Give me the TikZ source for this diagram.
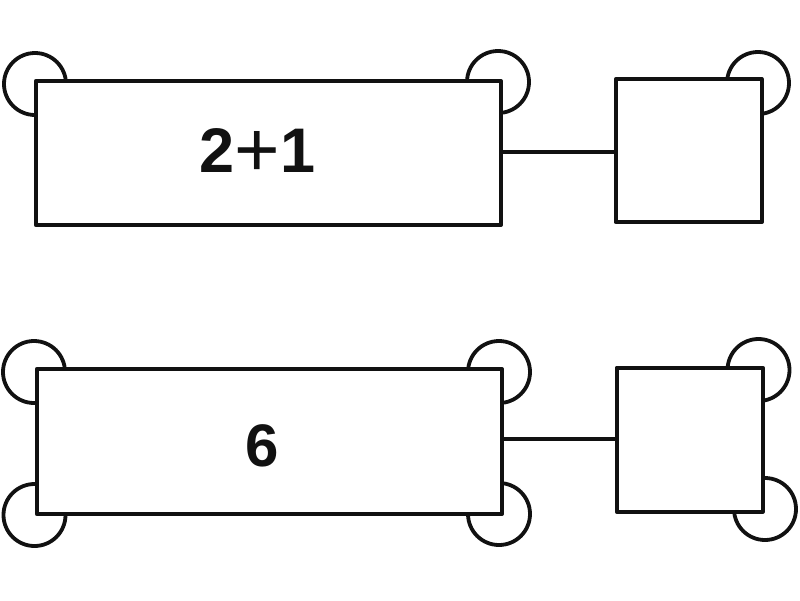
\documentclass[tikz,border=0pt]{standalone}
\usepackage{fontspec}
\setmainfont{Liberation Sans}
\tikzset{
  boxnode/.style={draw=ink, fill=white, line width=4pt, line join=round, inner sep=0pt, outer sep=0pt, rectangle},
  ringnode/.style={draw=ink, line width=3.8pt, circle, inner sep=0pt, outer sep=0pt, minimum size=62pt},
  wirestyle/.style={draw=ink, line width=3.4pt},
  labelnode/.style={inner sep=0pt, outer sep=0pt, text=ink, anchor=base, font=\fontsize{63}{70}\selectfont}
}
\definecolor{ink}{HTML}{111111}
\begin{document}
\begin{tikzpicture}[x=1pt,y=-1pt]
\useasboundingbox (0,0) rectangle (800,600);
% top row rings
\node[ringnode] (r1) at (35,84) {};
\node[ringnode] (r2) at (498,82) {};
\node[ringnode] (r3) at (758,83) {};
% bottom row rings
\node[ringnode] (r4) at (34,372) {};
\node[ringnode] (r5) at (34.5,515) {};
\node[ringnode] (r6) at (499,372) {};
\node[ringnode] (r7) at (499,514) {};
\node[ringnode] (r8) at (758.5,370) {};
\node[ringnode] (r9) at (765,509) {};
% boxes
\node[boxnode, minimum width=465pt, minimum height=144pt] (a) at (268.3,153) {};
\node[boxnode, minimum width=146pt, minimum height=143pt] (b) at (688.7,150.6) {};
\node[boxnode, minimum width=465pt, minimum height=145pt] (c) at (269.3,441.5) {};
\node[boxnode, minimum width=146pt, minimum height=144pt] (d) at (689.7,439.7) {};
% connectors
\coordinate (w1) at (560,152);
\coordinate (w2) at (560,439);
\draw[wirestyle] (w1 -| a.east) -- (w1 -| b.west);
\draw[wirestyle] (w2 -| c.east) -- (w2 -| d.west);
% labels
\node[labelnode] (t1) at (257.5,172.5) {\textbf{2}\raisebox{-4pt}{\fontsize{78}{78}\selectfont +}\textbf{1}};
\node[labelnode, font=\fontsize{60}{70}\selectfont] (t2) at (262,466) {\textbf{6}};
\end{tikzpicture}
\end{document}
